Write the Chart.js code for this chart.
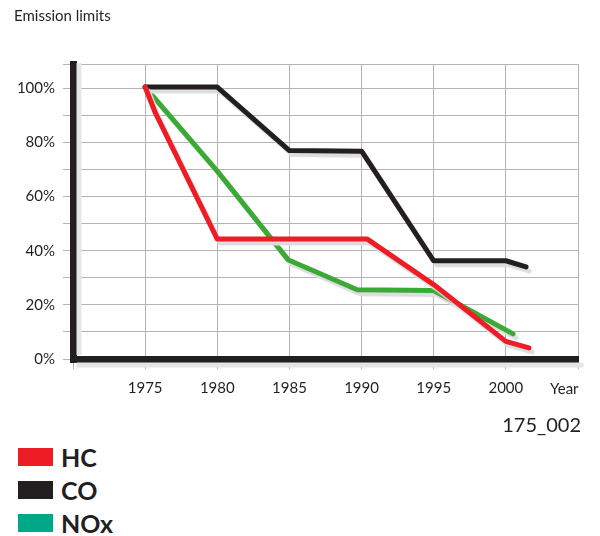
<!DOCTYPE html>
<html>
<head>
<meta charset="utf-8">
<script src="https://cdn.jsdelivr.net/npm/chart.js@4.4.1/dist/chart.umd.min.js"></script>
<style>
  body { margin: 0; background: #fff; font-family: Lato, "Noto Sans", sans-serif; color: #231f20; }
  #wrap { position: relative; width: 600px; height: 536px; overflow: hidden; }
  #chart { position: absolute; left: 0; top: 0; }
  .title { position: absolute; left: 14px; top: 6px; font-size: 15px; }
  .year { position: absolute; left: 550px; top: 379px; font-size: 15px; }
  .code { position: absolute; right: 19px; top: 412px; font-size: 20px; }
  .legend { position: absolute; left: 18px; top: 440px; }
  .legend div { height: 33px; display: flex; align-items: center; font-weight: bold; font-size: 25px; }
  .legend span { display: inline-block; width: 35px; height: 18px; margin-right: 8px; }
</style>
</head>
<body>
<div id="wrap">
  <canvas id="chart" width="600" height="400"></canvas>
  <div class="title">Emission limits</div>
  <div class="year">Year</div>
  <div class="code">175_002</div>
  <div class="legend" id="legend"></div>
</div>
<script>
// values, in % of the 1975 limit
const hcYears = [1975, 1975.7, 1980, 1990.4, 1995, 2000, 2001.6];
const hcValues = [100.5, 91, 44.3, 44.3, 27.5, 6.5, 4.1];

const coYears = [1975, 1980, 1985, 1990, 1995, 2000, 2001.4];
const coValues = [100.5, 100.5, 77, 76.8, 36.3, 36.3, 34];

const noxYears = [1975, 1980, 1984.9, 1989.7, 1995, 2000.5];
const noxValues = [100.5, 69.4, 36.7, 25.6, 25.3, 9.3];

const seriesNames = ['HC', 'CO', 'NOx'];
const lineColors = ['#ee1c25', '#231f20', '#3aaa35'];
const legendColors = ['#ee1c25', '#231f20', '#00a88a'];

const xTicks = [1970, 1975, 1980, 1985, 1990, 1995, 2000, 2005];
const xLabels = ['', '1975', '1980', '1985', '1990', '1995', '2000', ''];
const yTicks = [0, 10, 20, 30, 40, 50, 60, 70, 80, 90, 100, 109];
const yLabels = ['0%', '', '20%', '', '40%', '', '60%', '', '80%', '', '100%', ''];

function toPoints(xs, ys) {
    return xs.map((x, i) => ({ x: x, y: ys[i] }));
}

const lineShadow = {
    id: 'lineShadow',
    beforeDatasetsDraw(chart) {
        // grey band along both axes
        const c = chart.ctx, a = chart.chartArea;
        c.save();
        c.fillStyle = '#e4e5e7';
        c.fillRect(a.left + 3.5, a.top - 1, 5, a.bottom - a.top - 3);
        c.fillRect(a.left + 3.5, a.bottom + 3.5, a.right - a.left + 2, 5);
        c.restore();
    },
    beforeDatasetDraw(chart) {
        const c = chart.ctx;
        c.save();
        c.shadowColor = '#dcdde0';
        c.shadowOffsetX = 3;
        c.shadowOffsetY = 4;
        c.shadowBlur = 1;
    },
    afterDatasetDraw(chart) {
        chart.ctx.restore();
    }
};

const allData = [toPoints(hcYears, hcValues), toPoints(coYears, coValues), toPoints(noxYears, noxValues)];

const ctx = document.getElementById('chart').getContext('2d');
new Chart(ctx, {
    type: 'line',
    data: {
        datasets: allData.map((d, i) => ({
            label: seriesNames[i],
            data: d,
            borderColor: lineColors[i],
            borderWidth: 5,
            borderCapStyle: 'round',
            borderJoinStyle: 'round',
            pointRadius: 0,
            tension: 0,
            fill: false
        }))
    },
    options: {
        responsive: false,
        animation: false,
        layout: { padding: { top: 64, right: 22, left: 0, bottom: 0 } },
        plugins: {
            legend: { display: false },
            tooltip: { enabled: false }
        },
        scales: {
            x: {
                type: 'linear',
                min: 1970,
                max: 2005,
                afterFit: (scale) => { scale.height = 41; },
                afterBuildTicks: (scale) => { scale.ticks = xTicks.map(v => ({ value: v })); },
                grid: { color: '#b4b4b6', lineWidth: 1, tickLength: 10 },
                border: { color: '#231f20', width: 7 },
                ticks: {
                    padding: 10,
                    maxRotation: 0,
                    autoSkip: false,
                    color: '#231f20',
                    font: { family: 'Lato', size: 15 },
                    callback: (v) => xLabels[xTicks.indexOf(v)]
                }
            },
            y: {
                min: 0,
                max: 109,
                afterFit: (scale) => { scale.width = 73; },
                afterBuildTicks: (scale) => { scale.ticks = yTicks.map(v => ({ value: v })); },
                grid: { color: '#b4b4b6', lineWidth: 1, tickLength: 10 },
                border: { color: '#231f20', width: 7 },
                ticks: {
                    padding: 8,
                    autoSkip: false,
                    color: '#231f20',
                    font: { family: 'Lato', size: 15 },
                    callback: (v) => yLabels[yTicks.indexOf(v)]
                }
            }
        }
    },
    plugins: [lineShadow]
});

const legend = document.getElementById('legend');
seriesNames.forEach((name, i) => {
    const row = document.createElement('div');
    row.innerHTML = '<span style="background:' + legendColors[i] + '"></span>' + name;
    legend.appendChild(row);
});
</script>
</body>
</html>
